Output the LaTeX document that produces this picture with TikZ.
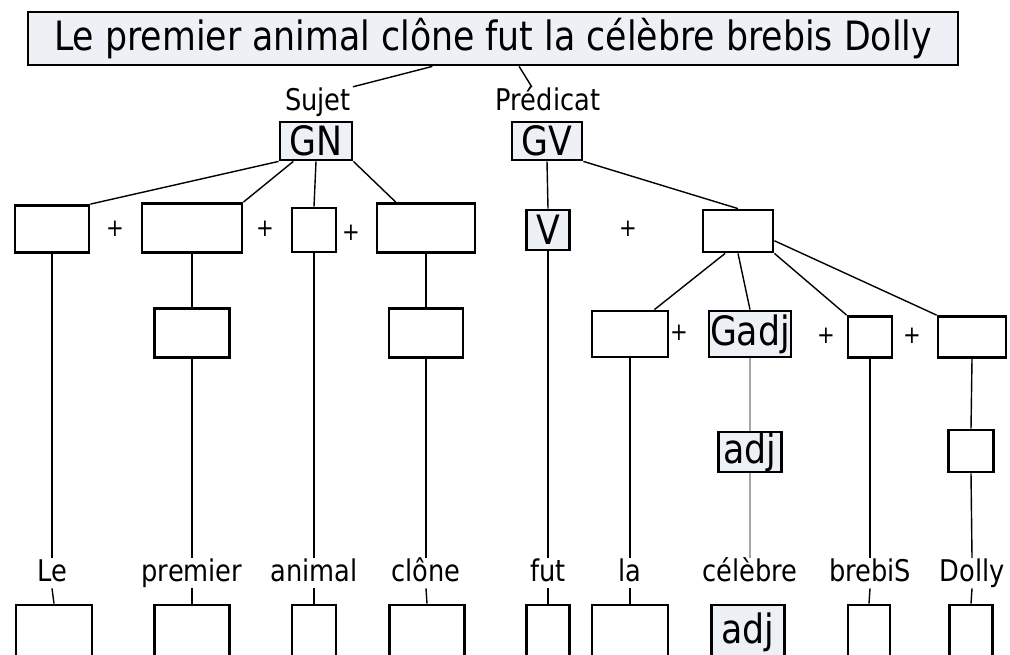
\documentclass[tikz,border=0pt]{standalone}
\usepackage{fontspec}
\newfontfamily\dfont[FakeStretch=0.86]{DejaVu Sans}
\usetikzlibrary{calc}
\usepackage{xcolor}
\definecolor{boxfill}{HTML}{EDF1F6}

\begin{document}
\begin{tikzpicture}[x=0.02cm, y=-0.02cm,
        box/.style={rectangle, draw, line width=1.6pt, inner sep=0pt, minimum height=0.98cm, font=\dfont\fontsize{23}{25}\selectfont},
        fbox/.style={box, fill=boxfill},
        lowbox/.style={box, minimum height=1.08cm},
        word/.style={inner sep=1pt, anchor=base, text height=12pt, text depth=3pt, font=\dfont\fontsize{17}{19}\selectfont},
        plus/.style={inner sep=0pt, font=\dfont\fontsize{14}{16}\selectfont},
        link/.style={line width=0.8pt},
        glink/.style={line width=0.8pt, gray!70}
    ]
        \useasboundingbox (0,0) rectangle (1010,654);
        \fill[white] (0,0) rectangle (1010,654);
        \clip (0,0) rectangle (1010,654);

        % Sentence
        \node[fbox, minimum width=18.6cm, minimum height=1.06cm] (title) at (493,38.5) {Le premier animal clône fut la célèbre brebis Dolly};
        \node[word] (sujet) at (318,110) {Sujet};
        \node[word] (predicat) at (548,110) {Prédicat};

        % Groups
        \node[fbox, minimum width=1.44cm, minimum height=0.76cm] (gn) at (316,141) {GN};
        \node[fbox, minimum width=1.40cm, minimum height=0.76cm] (gv) at (547,141) {GV};

        % First level
        \node[box, minimum width=1.48cm, minimum height=0.94cm] (n1) at (52,229) {};
        \node[box, minimum width=2.00cm] (n2) at (192,228) {};
        \node[box, minimum width=0.88cm, minimum height=0.88cm] (n3) at (314,230) {};
        \node[box, minimum width=1.96cm] (n4) at (426,228) {};
        \node[fbox, minimum width=0.86cm, minimum height=0.80cm] (v) at (548,230) {V};
        \node[box, minimum width=1.40cm, minimum height=0.84cm] (gp) at (738,231) {};
        \node[plus] (p1) at (115,229) {+};
        \node[plus] (p2) at (265,229) {+};
        \node[plus] (p3) at (351,233) {+};
        \node[plus] (p4) at (628,229) {+};

        % Second level
        \node[box, minimum width=1.50cm] (n2b) at (192,333) {};
        \node[box, minimum width=1.48cm] (n4b) at (426,333) {};
        \node[box, minimum width=1.52cm, minimum height=0.92cm] (la) at (630,334) {};
        \node[fbox, minimum width=1.64cm, minimum height=0.92cm] (gadj) at (750,334) {Gadj};
        \node[box, minimum width=0.88cm, minimum height=0.82cm] (bx) at (870,337) {};
        \node[box, minimum width=1.36cm, minimum height=0.82cm] (dx) at (972,337) {};
        \node[plus] (p5) at (679,333) {+};
        \node[plus] (p6) at (826,336) {+};
        \node[plus] (p7) at (912,336) {+};

        % Third level
        \node[fbox, minimum width=1.26cm, minimum height=0.80cm] (adj) at (750,452) {adj};
        \node[box, minimum width=0.90cm, minimum height=0.84cm] (dxb) at (971,451) {};

        % Words
        \node[word] (w-le) at (52,581) {Le};
        \node[word] (w-premier) at (192,581) {premier};
        \node[word] (w-animal) at (314,581) {animal};
        \node[word] (w-clone) at (426,581) {clône};
        \node[word] (w-fut) at (548,581) {fut};
        \node[word] (w-la) at (630,581) {la};
        \node[word] (w-celebre) at (750,581) {célèbre};
        \node[word] (w-brebis) at (870,581) {brebiS};
        \node[word] (w-dolly) at (972,581) {Dolly};

        % Bottom row
        \node[lowbox, minimum width=1.52cm] (b-le) at (54,632) {};
        \node[lowbox, minimum width=1.50cm] (b-premier) at (192,632) {};
        \node[lowbox, minimum width=0.88cm] (b-animal) at (314,632) {};
        \node[lowbox, minimum width=1.50cm] (b-clone) at (427,632) {};
        \node[lowbox, minimum width=0.86cm] (b-fut) at (548,632) {};
        \node[lowbox, minimum width=1.52cm] (b-la) at (630,632) {};
        \node[lowbox, fill=boxfill, minimum width=1.46cm] (b-adj) at (748,632) {adj};
        \node[lowbox, minimum width=0.84cm] (b-brebis) at (869,632) {};
        \node[lowbox, minimum width=0.86cm] (b-dolly) at (971,632) {};

        % Tree lines
        \draw[link] ($(title.south)!0.13!(title.south west)$) -- (sujet.north east);
        \draw[link] ($(title.south)!0.056!(title.south east)$) -- ($(predicat.north)!0.3!(predicat.north west)$);

        \draw[link] (gn.south west) -- (n1.north east);
        \draw[link] (gn.222) -- (n2.north east);
        \draw[link] (gn.south) -- (n3.north);
        \draw[link] (gn.south east) -- ($(n4.north west)!0.2!(n4.north east)$);
        \draw[link] (gv.south) -- (v.north);
        \draw[link] (gv.south east) -- (gp.north);

        \draw[link] (gp.240) -- (la.45);
        \draw[link] (gp.south) -- (gadj.north);
        \draw[link] (gp.south east) -- (bx.north west);
        \draw[link] (gp.-15) -- (dx.north west);

        \draw[link] (n1.south) -- (w-le.north);
        \draw[link] (n2.south) -- (n2b.north);
        \draw[link] (n2b.south) -- (w-premier.north);
        \draw[link] (n3.south) -- (w-animal.north);
        \draw[link] (n4.south) -- (n4b.north);
        \draw[link] (n4b.south) -- (w-clone.north);
        \draw[link] (v.south) -- (w-fut.north);
        \draw[link] (la.south) -- (w-la.north);
        \draw[glink] (gadj.south) -- (adj.north);
        \draw[glink] (adj.south) -- (w-celebre.north);
        \draw[link] (bx.south) -- (w-brebis.north);
        \draw[link] (dx.south) -- (dxb.north);
        \draw[link] (dxb.south) -- (w-dolly.north);

        \draw[link] (w-le.south) -- (b-le.north);
        \draw[link] (w-premier.south) -- (b-premier.north);
        \draw[link] (w-animal.south) -- (b-animal.north);
        \draw[link] (w-clone.south) -- (b-clone.north);
        \draw[link] (w-fut.south) -- (b-fut.north);
        \draw[link] (w-la.south) -- (b-la.north);
        \draw[link] (w-brebis.south) -- (b-brebis.north);
        \draw[link] (w-dolly.south) -- (b-dolly.north);
    \end{tikzpicture}
\end{document}
